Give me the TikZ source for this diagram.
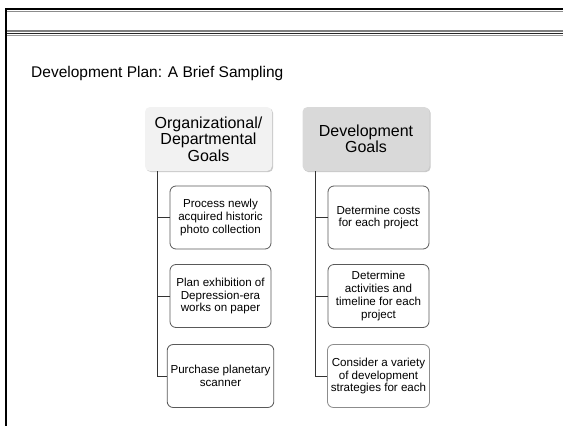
\documentclass[tikz,border=0pt]{standalone}
\usepackage{fontspec}
\setmainfont{Liberation Sans}
\usetikzlibrary{shadows}
\begin{document}
\begin{tikzpicture}[x=1pt,y=-1pt,
  hdr/.style={rounded corners=5pt, minimum width=127pt, minimum height=64pt,
    align=center, font=\fontsize{16}{16.5}\selectfont,
    drop shadow={shadow xshift=1.2pt, shadow yshift=-1.2pt, opacity=0.35, fill=black!60}},
  child/.style={draw=black!65, line width=0.8pt, rounded corners=6pt, fill=white,
    minimum width=101pt, minimum height=63pt, align=center,
    font=\fontsize{11.6}{12.9}\selectfont},
  conn/.style={draw=black!80, line width=1pt},
  frameline/.style={line width=2pt, black}]
\useasboundingbox (0,0) rectangle (563,426);
% frame
\draw[frameline] (5,8.9) -- (563,8.9);
\draw[black!45, line width=1pt] (7,11.5) -- (563,11.5);
\draw[frameline] (6,8) -- (6,426);
\draw[black!50, line width=1.6pt] (7,31) -- (563,31);
\draw[black!85, line width=0.8pt] (7,33.4) -- (563,33.4);
\draw[black!40, line width=1pt] (7,35) -- (563,35);
% title
\node[anchor=base west, inner sep=0pt, font=\fontsize{15.5}{18}\selectfont] (title) at (31,77) {Development Plan: A Brief Sampling};
% headers
\node[hdr, fill=black!5] (hL) at (208.5,139) {Organizational/\\Departmental\\Goals};
\node[hdr, fill=black!15] (hR) at (366,139) {Development\\Goals};
% children left
\node[child] (l1) at (220.5,217.5) {Process newly\\acquired historic\\photo collection};
\node[child] (l2) at (220.5,296) {Plan exhibition of\\Depression-era\\works on paper};
\node[child] (l3) at (220.5,376) {Purchase planetary\\scanner};
% children right
\node[child] (r1) at (378.5,217.5) {Determine costs\\for each project};
\node[child] (r2) at (378.5,296) {Determine\\activities and\\timeline for each\\project};
\node[child, draw=black!45] (r3) at (378.5,376) {Consider a variety\\of development\\strategies for each};
% connectors
\coordinate (tL) at (157,171);
\coordinate (tR) at (315,171);
\draw[conn] (tL) |- (l3.west);
\draw[conn] (tL) |- (l1.west);
\draw[conn] (tL) |- (l2.west);
\draw[conn] (tR) |- (r3.west);
\draw[conn] (tR) |- (r1.west);
\draw[conn] (tR) |- (r2.west);
\end{tikzpicture}
\end{document}
